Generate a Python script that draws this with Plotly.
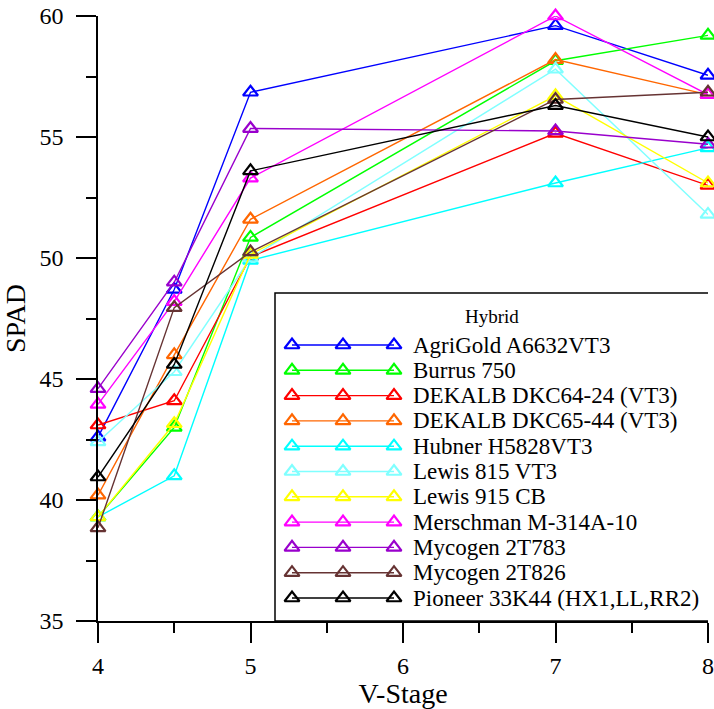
import plotly.graph_objects as go

# ---------------- data ----------------
stages = [4, 4.5, 5, 7, 8]
hybrids = [
    "AgriGold A6632VT3",
    "Burrus 750",
    "DEKALB DKC64-24 (VT3)",
    "DEKALB DKC65-44 (VT3)",
    "Hubner H5828VT3",
    "Lewis 815 VT3",
    "Lewis 915 CB",
    "Merschman M-314A-10",
    "Mycogen 2T783",
    "Mycogen 2T826",
    "Pioneer 33K44 (HX1,LL,RR2)",
]
agrigold = [42.6, 48.7, 56.85, 59.6, 57.55]
burrus = [39.3, 43.0, 50.85, 58.15, 59.2]
dekalb64 = [43.1, 44.1, 50.05, 55.15, 53.0]
dekalb65 = [40.2, 46.0, 51.6, 58.2, 56.75]
hubner = [39.3, 41.0, 49.9, 53.1, 54.55]
lewis815 = [42.4, 45.3, 50.0, 57.8, 51.8]
lewis915 = [39.3, 43.15, 50.15, 56.7, 53.1]
merschman = [43.95, 48.2, 53.3, 60.0, 56.75]
mycogen783 = [44.6, 49.0, 55.35, 55.25, 54.7]
mycogen826 = [38.85, 47.95, 50.25, 56.55, 56.85]
pioneer = [40.95, 45.6, 53.6, 56.3, 55.0]
series = [agrigold, burrus, dekalb64, dekalb65, hubner, lewis815,
          lewis915, merschman, mycogen783, mycogen826, pioneer]

x_ticks = [4, 5, 6, 7, 8]
y_ticks = [35, 40, 45, 50, 55, 60]

# ---------------- style ----------------
colors = ["#0000FF", "#00FF00", "#FF0000", "#FF6600", "#00FFFF", "#80FFFF",
          "#FFFF00", "#FF00FF", "#9900CC", "#663333", "#000000"]
FONT = "Liberation Serif"
W, H = 714, 709
L, R, T, B = 98, 6, 16, 88

fig = go.Figure()
for name, vals, c in zip(hybrids, series, colors):
    fig.add_trace(go.Scatter(
        x=stages, y=vals, name=name, mode="lines+markers",
        line=dict(color=c, width=1.4),
        marker=dict(symbol="triangle-up-open", size=13, color=c,
                    line=dict(width=2.2, color=c)),
        cliponaxis=False, showlegend=False,
    ))

# ---- custom legend drawn in a pixel-like overlay axis ----
leg_x0, leg_y0, leg_x1, leg_y1 = 275, 293, 709, 621
leg_mark_x = [292, 343, 394]
leg_row0, leg_dy = 345, 25.3
leg_text_x = 411
for i, (name, c) in enumerate(zip(hybrids, colors)):
    yy = leg_row0 + i * leg_dy
    fig.add_trace(go.Scatter(
        x=leg_mark_x, y=[yy] * 3, mode="lines+markers", xaxis="x2", yaxis="y2",
        line=dict(color=c, width=1.4),
        marker=dict(symbol="triangle-up-open", size=13, color=c,
                    line=dict(width=2.2, color=c)),
        cliponaxis=False, showlegend=False, hoverinfo="skip",
    ))
    fig.add_annotation(x=leg_text_x, y=yy, xref="x2", yref="y2", text=name,
                       showarrow=False, xanchor="left", yanchor="middle",
                       font=dict(family=FONT, size=23, color="black"))
fig.add_annotation(x=(leg_x0 + leg_x1) / 2, y=316, xref="x2", yref="y2",
                   text="Hybrid", showarrow=False, xanchor="center",
                   yanchor="middle", font=dict(family=FONT, size=19, color="black"))
fig.add_shape(type="rect", xref="x2", yref="y2", x0=leg_x0, x1=leg_x1,
              y0=leg_y0, y1=leg_y1, line=dict(color="black", width=1.5),
              fillcolor="white", layer="below")

fig.update_layout(
    width=W, height=H, margin=dict(l=L, r=R, t=T, b=B, autoexpand=False),
    paper_bgcolor="white", plot_bgcolor="white",
    font=dict(family=FONT, size=24, color="black"),
    showlegend=False,
    xaxis=dict(
        range=[4, 8], tickvals=x_ticks, ticks="outside", ticklen=20,
        tickwidth=1.5, tickcolor="black", showline=True, linecolor="black",
        linewidth=1.5, showgrid=False, zeroline=False, automargin=False,
        minor=dict(dtick=0.5, ticklen=10, ticks="outside", tickwidth=1.5,
                   tickcolor="black", showgrid=False),
        tickfont=dict(family=FONT, size=24), ticklabelstandoff=2,
        title=dict(text="V-Stage", font=dict(family=FONT, size=28), standoff=3),
    ),
    yaxis=dict(
        range=[35, 60], tickvals=y_ticks, ticks="outside", ticklen=20,
        tickwidth=1.5, tickcolor="black", showline=True, linecolor="black",
        linewidth=1.5, showgrid=False, zeroline=False, automargin=False,
        minor=dict(dtick=2.5, ticklen=10, ticks="outside", tickwidth=1.5,
                   tickcolor="black", showgrid=False),
        tickfont=dict(family=FONT, size=24), ticklabelstandoff=8,
        title=dict(text="SPAD", font=dict(family=FONT, size=28), standoff=10),
    ),
    xaxis2=dict(domain=[0, 1], range=[L, W - R], anchor="y2", overlaying="x",
                visible=False, fixedrange=True),
    yaxis2=dict(domain=[0, 1], range=[H - B, T], anchor="x2", overlaying="y",
                visible=False, fixedrange=True),
)

fig.write_html("out.html")
